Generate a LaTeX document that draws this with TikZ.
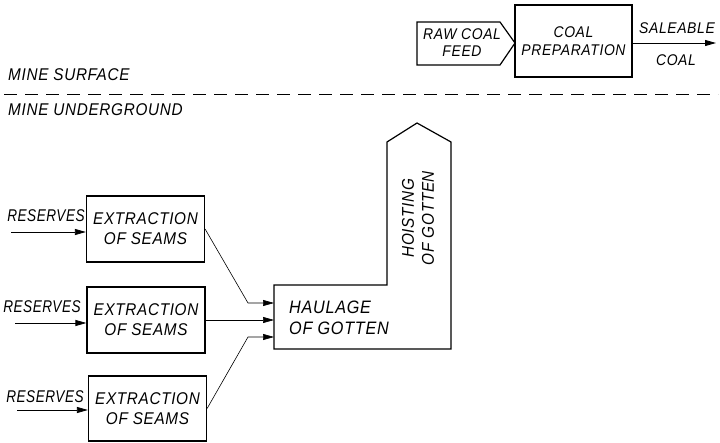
\documentclass[tikz,border=0pt]{standalone}
\usepackage{fontspec}
\setmainfont{Liberation Sans}
\newfontfamily\lett[LetterSpace=4, FakeStretch=0.9]{Liberation Sans}
\newfontfamily\lettn[LetterSpace=3, FakeStretch=0.8]{Liberation Sans}
\usetikzlibrary{arrows.meta}
\begin{document}
\begin{tikzpicture}[x=1pt,y=-1pt,
  lbl/.style={font=\lett\itshape\fontsize{17}{20}\selectfont, align=center, inner sep=0pt},
  lbls/.style={font=\lett\itshape\fontsize{15.5}{18}\selectfont, align=center, inner sep=0pt},
  lblr/.style={font=\lettn\itshape\fontsize{17}{20}\selectfont, inner sep=0pt},
  boxe/.style={draw, line width=1.2pt, minimum width=118pt, minimum height=65pt, inner sep=0pt,
    font=\lett\itshape\fontsize{17}{20}\selectfont, align=center},
  outline/.style={draw, line width=1.2pt, line join=miter},
  conn/.style={line width=0.6pt, -{Triangle[length=11pt,width=6pt]}},
  feedarrow/.style={line width=0.9pt, -{Triangle[length=11pt,width=6pt]}}]
\useasboundingbox (0,0) rectangle (720,443);

% top
\draw[outline] (417,22) -- (500,22) -- (515,43) -- (500,65) -- (417,65) -- cycle;
\node[lbls] (feed) at (462,43) {RAW COAL\\[-1pt]FEED};
\node[draw, line width=1.2pt, minimum width=117pt, minimum height=72pt, inner sep=0pt,
  font=\lett\itshape\fontsize{15.5}{18}\selectfont, align=center] (prep) at (573.5,41) {COAL\\PREPARATION};
\coordinate (sal) at (716,43);
\draw[feedarrow] (prep.east |- sal) -- (sal);
\node[lbls] (salt) at (677,28) {SALEABLE};
\node[lbls] (coalt) at (676,60) {COAL};

% divider
\node[lbl, anchor=west] (surf) at (8,75) {MINE SURFACE};
\coordinate (dl) at (4,94);
\coordinate (dr) at (718,94);
\draw[line width=0.8pt, dash pattern=on 13pt off 8pt] (dl) -- (dr);
\node[lbl, anchor=west] (under) at (8,110) {MINE UNDERGROUND};

% extraction boxes
\node[boxe, minimum height=66pt] (ex1) at (145.5,229) {EXTRACTION\\OF SEAMS};
\node[boxe, minimum height=66pt] (ex2) at (146,320) {EXTRACTION\\OF SEAMS};
\node[boxe] (ex3) at (147.5,408.5) {EXTRACTION\\OF SEAMS};

% reserves
\coordinate (r1) at (11,232);
\coordinate (r2) at (15,323);
\coordinate (r3) at (17,410);
\draw[feedarrow, line width=0.8pt] (r1) -- (r1 -| ex1.west);
\draw[feedarrow, line width=0.8pt] (r2) -- (r2 -| ex2.west);
\draw[feedarrow, line width=0.8pt] (r3) -- (r3 -| ex3.west);
\node[lblr] (res1) at (46,216) {RESERVES};
\node[lblr] (res2) at (42,307) {RESERVES};
\node[lblr] (res3) at (45,397) {RESERVES};

% haulage / hoisting
\draw[outline] (274,285) -- (387,285) -- (387,142) -- (417,123) -- (451,142) -- (451,349) -- (274,349) -- cycle;
\node[lbl, font=\lett\itshape\fontsize{18}{21}\selectfont, align=left] (haul) at (339,318) {HAULAGE\\OF GOTTEN};
\node[lbl, rotate=90] (hoist) at (418,218) {HOISTING\\OF GOTTEN};

\coordinate (h1) at (274,303);
\coordinate (h2) at (274,320);
\coordinate (h3) at (274,337);
\coordinate (b1) at (248,303);
\coordinate (b3) at (248,337);
\draw[conn] (ex1.east) -- (b1) -- (h1);
\draw[conn] (ex2.east |- h2) -- (h2);
\draw[conn] (ex3.east) -- (b3) -- (h3);
\end{tikzpicture}
\end{document}
